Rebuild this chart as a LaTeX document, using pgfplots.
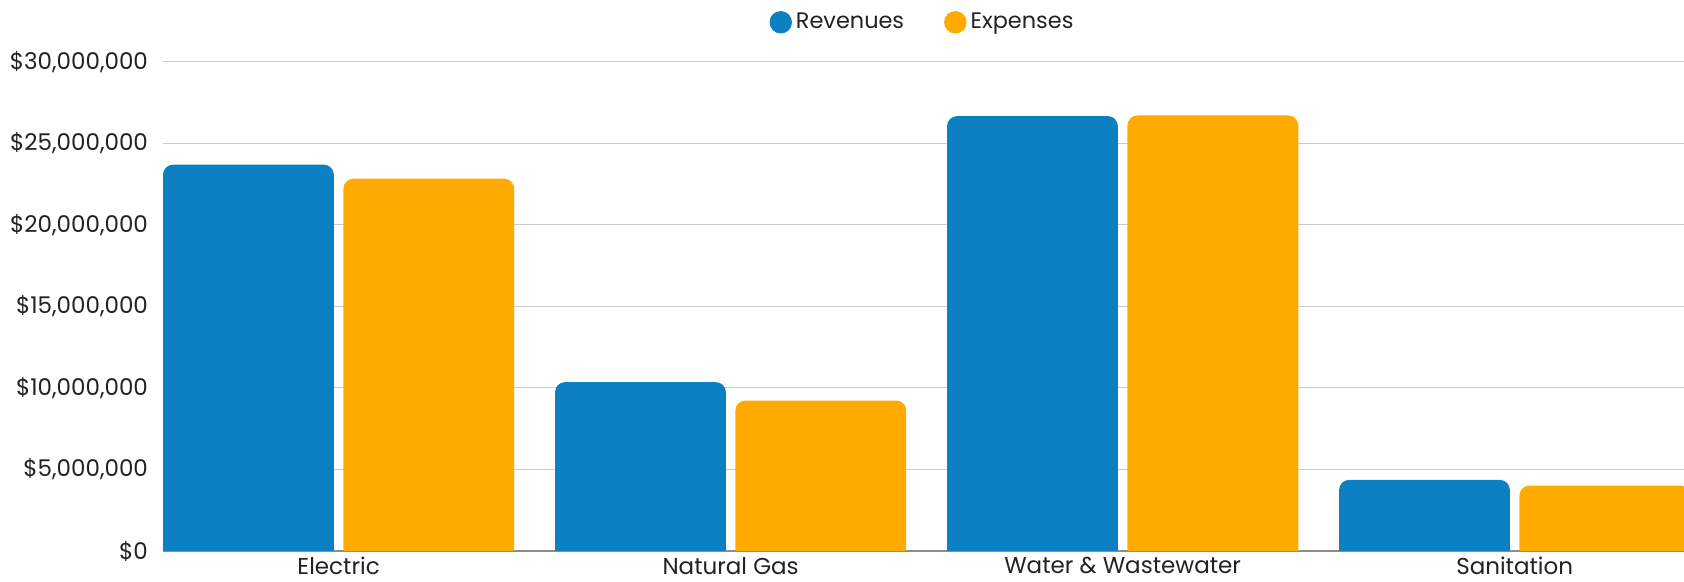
\documentclass[border=0pt]{standalone}
\usepackage{pgfplots}
\pgfplotsset{compat=1.18}
\usepackage{pgfplotstable}
\usepackage{fontspec}
\setmainfont{Poppins}
\definecolor{revblue}{HTML}{0C80C2}
\definecolor{expor}{HTML}{FFAA00}
\definecolor{txt}{HTML}{222222}

\pgfdeclareplotmark{barrev}{%
  \pgfpathmoveto{\pgfpoint{-87.8pt}{-400pt}}%
  \pgfpathlineto{\pgfpoint{-87.8pt}{-5pt}}%
  \pgfpatharc{180}{90}{5pt}%
  \pgfpathlineto{\pgfpoint{-7.4pt}{0pt}}%
  \pgfpatharc{90}{0}{5pt}%
  \pgfpathlineto{\pgfpoint{-2.4pt}{-400pt}}%
  \pgfpathclose
  \pgfusepathqfill}
\pgfdeclareplotmark{barexp}{%
  \pgfpathmoveto{\pgfpoint{2.4pt}{-400pt}}%
  \pgfpathlineto{\pgfpoint{2.4pt}{-5pt}}%
  \pgfpatharc{180}{90}{5pt}%
  \pgfpathlineto{\pgfpoint{82.8pt}{0pt}}%
  \pgfpatharc{90}{0}{5pt}%
  \pgfpathlineto{\pgfpoint{87.8pt}{-400pt}}%
  \pgfpathclose
  \pgfusepathqfill}

\pgfplotstableread{
x rev exp
0 23700000 22840000
1 10360000 9230000
2 26680000 26720000
3 4360000 4010000
}\datatable

\begin{document}
\begin{tikzpicture}
\useasboundingbox (-81.5pt,-15.5pt) rectangle (760.5pt,275.5pt);
\begin{axis}[
  width=760.5pt, height=244.5pt, scale only axis,
  xmin=-0.448, xmax=3.432, ymin=0, ymax=30000000,
  clip marker paths=true,
  axis lines*=left,
  y axis line style={draw=none},
  x axis line style={black!45, line width=0.6pt},
  ytick={0,5000000,10000000,15000000,20000000,25000000,30000000},
  yticklabels={\$0,{\$5,000,000},{\$10,000,000},{\$15,000,000},{\$20,000,000},{\$25,000,000},{\$30,000,000}},
  scaled y ticks=false,
  xtick={0,1,2,3},
  xticklabels={Electric,Natural Gas,Water \& Wastewater,Sanitation},
  major tick length=0pt,
  tick style={draw=none},
  ymajorgrids,
  grid style={black!20, line width=0.5pt},
  every tick label/.append style={font=\fontsize{11.5}{13}\selectfont, text=txt},
  yticklabel style={xshift=-4pt},
  xticklabel style={text depth=0pt, inner ysep=0pt, yshift=-3.0pt},
  legend style={at={(0.5,1)}, anchor=south, yshift=11pt, draw=none, fill=none,
    legend columns=-1, font=\fontsize{11.2}{13}\selectfont, text=txt,
    /tikz/every even column/.append style={column sep=18pt}},
]
\addplot[only marks, mark=barrev, mark options={fill=revblue, draw=none},
  legend image code/.code={\fill[revblue] (-4pt,0pt) circle (5.4pt);}]
  table[x=x, y=rev] {\datatable};
\addlegendentry{Revenues}
\addplot[only marks, mark=barexp, mark options={fill=expor, draw=none},
  legend image code/.code={\fill[expor] (-4pt,0pt) circle (5.4pt);}]
  table[x=x, y=exp] {\datatable};
\addlegendentry{Expenses}
\end{axis}
\end{tikzpicture}
\end{document}
